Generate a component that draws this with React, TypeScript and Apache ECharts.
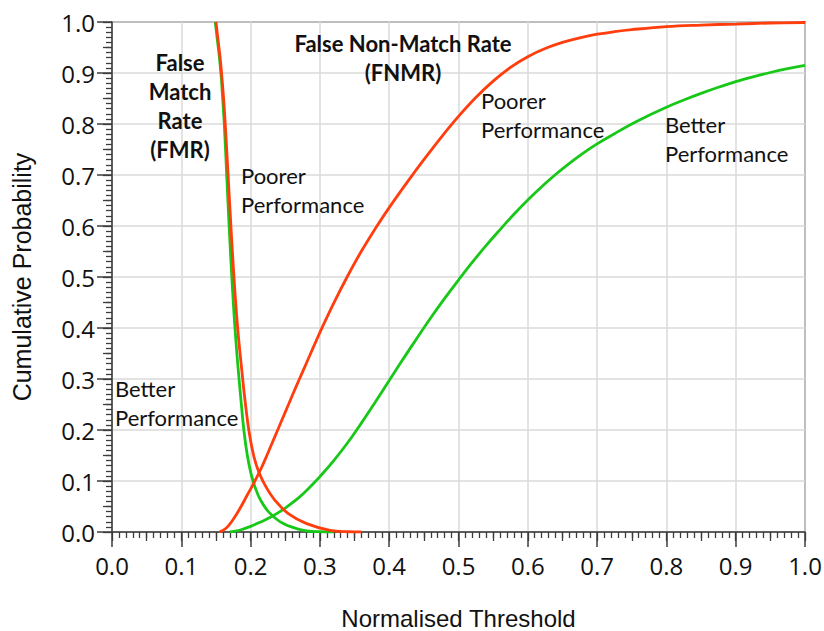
import React, { useEffect, useRef } from "react";
import * as echarts from "echarts";

// False Match Rate curves (falling), [normalised threshold, cumulative probability]
const fmrBetter: [number, number][] = [
  [0.149, 1.0], [0.152, 0.965], [0.155, 0.93], [0.158, 0.885], [0.162, 0.8],
  [0.1655, 0.7], [0.169, 0.6], [0.1725, 0.51], [0.1755, 0.44], [0.1785, 0.38],
  [0.1818, 0.324], [0.1861, 0.2585], [0.1905, 0.197], [0.1953, 0.15],
  [0.2006, 0.1146], [0.2063, 0.0884], [0.2145, 0.0622], [0.227, 0.038],
  [0.2472, 0.0165], [0.2761, 0.0033], [0.3, 0.0005], [0.32, 0],
];
const fmrPoorer: [number, number][] = [
  [0.15, 1.0], [0.153, 0.965], [0.156, 0.93], [0.159, 0.885], [0.1625, 0.82],
  [0.1655, 0.75], [0.1685, 0.675], [0.172, 0.59], [0.1755, 0.51], [0.179, 0.44],
  [0.1823, 0.385], [0.1871, 0.32], [0.1919, 0.2585], [0.1982, 0.193],
  [0.2049, 0.147], [0.2126, 0.115], [0.2222, 0.0884], [0.2352, 0.0622],
  [0.2544, 0.0361], [0.2809, 0.0165], [0.3146, 0.0033], [0.34, 0.0005], [0.36, 0],
];

// False Non-Match Rate curves (rising)
const fnmrPoorer: [number, number][] = [
  [0.155, 0], [0.165, 0.008], [0.175, 0.025], [0.185, 0.047], [0.195, 0.072],
  [0.205, 0.097], [0.215, 0.124], [0.225, 0.155], [0.235, 0.187], [0.245, 0.219],
  [0.255, 0.251], [0.265, 0.283], [0.275, 0.314], [0.285, 0.345], [0.295, 0.376],
  [0.305, 0.406], [0.32, 0.449], [0.34, 0.502], [0.36, 0.551], [0.38, 0.595],
  [0.4, 0.636], [0.425, 0.684], [0.45, 0.73], [0.475, 0.774], [0.5, 0.815],
  [0.525, 0.852], [0.55, 0.884], [0.575, 0.911], [0.6, 0.932], [0.625, 0.948],
  [0.65, 0.96], [0.675, 0.969], [0.7, 0.976], [0.725, 0.981], [0.75, 0.985],
  [0.8, 0.991], [0.85, 0.994], [0.9, 0.996], [0.95, 0.998], [1.0, 0.999],
];
const fnmrBetter: [number, number][] = [
  [0.17, 0], [0.18, 0.002], [0.19, 0.006], [0.2, 0.011], [0.21, 0.017],
  [0.22, 0.023], [0.23, 0.03], [0.24, 0.038], [0.25, 0.047], [0.26, 0.057],
  [0.27, 0.068], [0.28, 0.0805], [0.29, 0.094], [0.3, 0.1085], [0.32, 0.14],
  [0.34, 0.175], [0.36, 0.214], [0.38, 0.255], [0.4, 0.297], [0.42, 0.339],
  [0.44, 0.38], [0.46, 0.42], [0.48, 0.458], [0.5, 0.494], [0.52, 0.529],
  [0.54, 0.562], [0.56, 0.593], [0.58, 0.623], [0.6, 0.651], [0.62, 0.677],
  [0.64, 0.701], [0.66, 0.723], [0.68, 0.743], [0.7, 0.761], [0.725, 0.781],
  [0.75, 0.8], [0.775, 0.817], [0.8, 0.833], [0.825, 0.847], [0.85, 0.86],
  [0.875, 0.872], [0.9, 0.883], [0.925, 0.8925], [0.95, 0.901], [0.975, 0.9085],
  [1.0, 0.915],
];

const xTitle = "Normalised Threshold";
const yTitle = "Cumulative Probability";

const RED = "#ff3d0d";
const GREEN = "#18c818";
const AXIS = "#3c3c3c";
const GRIDLINE = "#dadada";
const TEXT = "#111111";
const NOTE_FONT = "Lato, 'Open Sans', sans-serif";
const TICK_FONT = "'Open Sans', sans-serif";
const TITLE_FONT = "'Liberation Sans', Arial, sans-serif";

function lineSeries(name: string, data: [number, number][], color: string) {
  return {
    name,
    type: "line",
    data,
    showSymbol: false,
    smooth: 0.4,
    clip: true,
    lineStyle: { color, width: 2.8 },
    itemStyle: { color },
    z: color === RED ? 4 : 3,
  };
}

function note(text: string, x: number, y: number, bold: boolean, align: string) {
  return {
    type: "text",
    x,
    y,
    z: 10,
    style: {
      text,
      fill: TEXT,
      fontFamily: NOTE_FONT,
      fontSize: 22,
      fontWeight: bold ? "bold" : "normal",
      lineHeight: 29,
      align,
      verticalAlign: "top",
    },
  };
}

function tickAxis(interval: number, length: number) {
  return {
    type: "value",
    min: 0,
    max: 1,
    interval,
    axisLine: { show: false },
    axisTick: { show: true, length, lineStyle: { color: AXIS, width: 1.3 } },
    axisLabel: { show: false },
    splitLine: { show: false },
  };
}

export default function App() {
  const ref = useRef<HTMLDivElement>(null);

  useEffect(() => {
    if (!ref.current) return;
    const chart = echarts.init(ref.current, undefined, { renderer: "svg" });
    const labelFmt = (v: number) => v.toFixed(1);
    chart.setOption({
      animation: false,
      backgroundColor: "#ffffff",
      grid: {
        left: 112,
        right: 19,
        top: 22,
        bottom: 99,
        containLabel: false,
        outerBoundsMode: "none",
        show: true,
        borderColor: AXIS,
        borderWidth: 1.5,
      },
      xAxis: [
        {
          type: "value",
          min: 0,
          max: 1,
          interval: 0.1,
          position: "bottom",
          axisLine: { show: true, lineStyle: { color: AXIS, width: 1.5 } },
          axisTick: { show: true, length: 15, lineStyle: { color: AXIS, width: 1.5 } },
          minorTick: { show: true, splitNumber: 10, length: 6, lineStyle: { color: AXIS, width: 1.3 } },
          splitLine: { show: true, lineStyle: { color: GRIDLINE, width: 1.5 } },
          axisLabel: {
            formatter: labelFmt,
            fontFamily: TICK_FONT,
            fontSize: 24,
            color: TEXT,
            margin: 21,
          },
          name: xTitle,
          nameLocation: "middle",
          nameGap: 74,
          nameTextStyle: { fontFamily: TITLE_FONT, fontSize: 24, lineHeight: 24, color: TEXT },
        },
        { ...tickAxis(0.05, 9), position: "bottom" },
      ],
      yAxis: [
        {
          type: "value",
          min: 0,
          max: 1,
          interval: 0.1,
          position: "left",
          axisLine: { show: true, lineStyle: { color: AXIS, width: 1.5 } },
          axisTick: { show: true, length: 15, lineStyle: { color: AXIS, width: 1.5 } },
          minorTick: { show: true, splitNumber: 10, length: 6, lineStyle: { color: AXIS, width: 1.3 } },
          splitLine: { show: true, lineStyle: { color: GRIDLINE, width: 1.5 } },
          axisLabel: {
            formatter: labelFmt,
            fontFamily: TICK_FONT,
            fontSize: 24,
            color: TEXT,
            margin: 17,
          },
          name: yTitle,
          nameLocation: "middle",
          nameGap: 78,
          nameRotate: 90,
          nameTextStyle: { fontFamily: TITLE_FONT, fontSize: 25, color: TEXT },
        },
        { ...tickAxis(0.05, 9), position: "left" },
      ],
      series: [
        lineSeries("FMR better", fmrBetter, GREEN),
        lineSeries("FNMR better", fnmrBetter, GREEN),
        lineSeries("FMR poorer", fmrPoorer, RED),
        lineSeries("FNMR poorer", fnmrPoorer, RED),
      ],
      graphic: [
        note("False\nMatch\nRate\n(FMR)", 180, 48, true, "center"),
        note("False Non-Match Rate\n(FNMR)", 403, 29, true, "center"),
        note("Poorer\nPerformance", 241, 161, false, "left"),
        note("Better\nPerformance", 115, 374, false, "left"),
        note("Poorer\nPerformance", 481, 86, false, "left"),
        note("Better\nPerformance", 665, 110, false, "left"),
      ],
    });
    return () => chart.dispose();
  }, []);

  return (
    <div
      ref={ref}
      style={{ position: "fixed", left: 0, top: 0, width: 824, height: 631, background: "#fff" }}
    />
  );
}
